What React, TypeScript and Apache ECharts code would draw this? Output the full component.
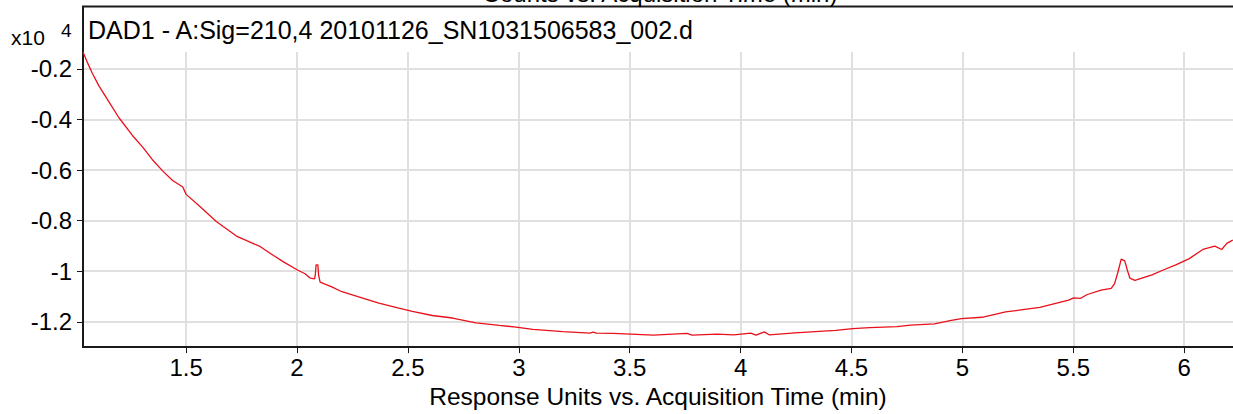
import React, { useEffect, useRef } from "react";
import * as echarts from "echarts";

const TITLE = "DAD1 - A:Sig=210,4 20101126_SN1031506583_002.d";
const TOP_TITLE = "Counts vs. Acquisition Time (min)";
const X_NAME = "Response Units vs. Acquisition Time (min)";
const Y_UNIT = "x10";
const Y_EXP = "4";

const X_TICKS = [1.5, 2, 2.5, 3, 3.5, 4, 4.5, 5, 5.5, 6];
const Y_TICKS = [-1.2, -1, -0.8, -0.6, -0.4, -0.2];

const TIMES = [
  1.035, 1.053, 1.076, 1.106, 1.152, 1.197, 1.258, 1.303, 1.348, 1.394, 1.439, 1.485, 1.5,
  1.561, 1.636, 1.667, 1.727, 1.773, 1.833, 1.894, 1.939, 2.0, 2.036, 2.059, 2.079, 2.082,
  2.086, 2.094, 2.097, 2.104, 2.157, 2.202, 2.278, 2.369, 2.459, 2.52, 2.61, 2.701, 2.807,
  2.912, 2.988, 3.063, 3.199, 3.32, 3.335, 3.35, 3.426, 3.607, 3.758, 3.781, 3.894, 3.969,
  4.046, 4.069, 4.107, 4.13, 4.245, 4.429, 4.506, 4.582, 4.705, 4.766, 4.874, 4.95, 4.996,
  5.088, 5.195, 5.272, 5.349, 5.425, 5.479, 5.502, 5.533, 5.563, 5.625, 5.671, 5.686, 5.701,
  5.716, 5.732, 5.744, 5.755, 5.778, 5.809, 5.855, 5.9, 5.962, 6.023, 6.084, 6.138, 6.169,
  6.192, 6.219,
];
const RESPONSE = [
  -0.133, -0.171, -0.215, -0.266, -0.33, -0.393, -0.463, -0.508, -0.559, -0.603, -0.641, -0.667,
  -0.696, -0.743, -0.803, -0.823, -0.861, -0.879, -0.902, -0.938, -0.963, -0.994, -1.01, -1.027,
  -1.03, -1.017, -0.975, -0.975, -1.014, -1.043, -1.062, -1.081, -1.101, -1.126, -1.146, -1.159,
  -1.175, -1.185, -1.204, -1.214, -1.221, -1.23, -1.239, -1.245, -1.241, -1.245, -1.246, -1.253,
  -1.246, -1.253, -1.249, -1.252, -1.245, -1.253, -1.24, -1.252, -1.244, -1.234, -1.227, -1.223,
  -1.219, -1.213, -1.208, -1.194, -1.187, -1.182, -1.161, -1.152, -1.143, -1.126, -1.114, -1.105,
  -1.107, -1.092, -1.075, -1.068, -1.049, -1.004, -0.952, -0.959, -0.997, -1.027, -1.036, -1.027,
  -1.014, -0.997, -0.975, -0.95, -0.914, -0.901, -0.914, -0.89, -0.877,
];

const FONT = "'Liberation Sans', Arial, sans-serif";

export default function App() {
  const ref = useRef<HTMLDivElement>(null);
  useEffect(() => {
    if (!ref.current) return;
    const chart = echarts.init(ref.current, null, { renderer: "svg" });
    const data = TIMES.map((t, i) => [t, RESPONSE[i]]);
    chart.setOption({
      animation: false,
      backgroundColor: "#ffffff",
      grid: { left: 83, right: 0, top: 52, bottom: 58, containLabel: false },
      xAxis: {
        type: "value",
        min: 1.035,
        max: 6.22,
        name: X_NAME,
        nameLocation: "middle",
        nameGap: 29,
        nameTextStyle: { color: "#000", fontSize: 24.5, fontFamily: FONT },
        axisLine: { show: true, lineStyle: { color: "#1a1a1a", width: 2 } },
        axisTick: { show: true, length: 6, customValues: X_TICKS, lineStyle: { color: "#1a1a1a", width: 1 } },
        axisLabel: { customValues: X_TICKS, color: "#000", fontSize: 24, fontFamily: FONT, margin: 8 },
        splitLine: { show: true, lineStyle: { color: "#e0e0e0", width: 2 } },
      },
      yAxis: {
        type: "value",
        min: -1.3,
        max: -0.133,
        axisLine: { show: true, lineStyle: { color: "#1a1a1a", width: 2 } },
        axisTick: { show: true, length: 6, customValues: Y_TICKS, lineStyle: { color: "#1a1a1a", width: 1 } },
        axisLabel: {
          customValues: Y_TICKS,
          color: "#000",
          fontSize: 24,
          fontFamily: FONT,
          margin: 11,
          formatter: (v: number) => String(Math.round(v * 10) / 10),
        },
        splitLine: { show: true, lineStyle: { color: "#e0e0e0", width: 2 } },
      },
      series: [
        {
          type: "line",
          data,
          showSymbol: false,
          symbol: "none",
          lineStyle: { color: "#e8101a", width: 1.3 },
          clip: true,
        },
      ],
      graphic: [
        { type: "line", shape: { x1: 82, y1: 6.5, x2: 1233, y2: 6.5 }, style: { stroke: "#1a1a1a", lineWidth: 2 } },
        { type: "line", shape: { x1: 83, y1: 6, x2: 83, y2: 53 }, style: { stroke: "#1a1a1a", lineWidth: 2 } },
        {
          type: "text",
          x: 660,
          y: 5,
          style: { text: TOP_TITLE, fill: "#000", font: `24px ${FONT}`, align: "center", verticalAlign: "bottom" },
        },
        {
          type: "text",
          x: 88,
          y: 17,
          style: { text: TITLE, fill: "#000", font: `25px ${FONT}`, align: "left", verticalAlign: "top" },
        },
        {
          type: "text",
          x: 11,
          y: 27,
          style: { text: Y_UNIT, fill: "#000", font: `21px ${FONT}`, align: "left", verticalAlign: "top" },
        },
        {
          type: "text",
          x: 61,
          y: 21,
          style: { text: Y_EXP, fill: "#000", font: `19px ${FONT}`, align: "left", verticalAlign: "top" },
        },
      ],
    });
    return () => chart.dispose();
  }, []);
  return (
    <div
      ref={ref}
      style={{ position: "fixed", left: 0, top: 0, width: 1233, height: 414, background: "#fff" }}
    />
  );
}
